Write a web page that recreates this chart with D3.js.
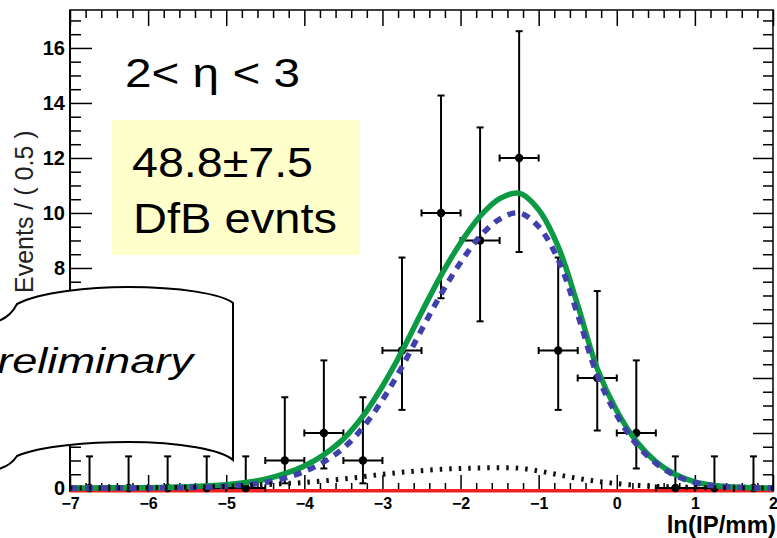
<!DOCTYPE html>
<html>
<head>
<meta charset="utf-8">
<script src="https://cdn.jsdelivr.net/npm/d3@7"></script>
<style>
  body { margin: 0; background: #fff; }
  svg { display: block; font-family: Arial, "Liberation Sans", Helvetica, sans-serif; }
</style>
</head>
<body>
<div id="chart"></div>
<script>
// ---- data ----
// binned data, bin width 0.5
const binCenters = [-6.75, -6.25, -5.75, -5.25, -4.75, -4.25, -3.75, -3.25, -2.75, -2.25, -1.75, -1.25, -0.75, -0.25, 0.25, 0.75, 1.25, 1.75];
const counts     = [0, 0, 0, 0, 0, 1, 2, 1, 5, 10, 9, 12, 5, 4, 2, 0, 0, 0];
const errLow     = [0, 0, 0, 0, 0, 0.83, 1.29, 0.83, 2.16, 3.10, 2.94, 3.42, 2.16, 1.91, 1.29, 0, 0, 0];
const errHigh    = [1.15, 1.15, 1.15, 1.15, 1.15, 2.30, 2.64, 2.30, 3.38, 4.27, 4.11, 4.61, 3.38, 3.16, 2.64, 1.15, 1.15, 1.15];

// fitted curves, sampled
const curveX  = [-7, -6.5, -6, -5.5, -5, -4.75, -4.5, -4.25, -4, -3.75, -3.5, -3.25, -3, -2.75, -2.5, -2.25, -2, -1.75, -1.5, -1.25, -1, -0.75, -0.5, -0.25, 0, 0.25, 0.5, 0.75, 1, 1.25, 1.5, 1.75, 2];
const totalY  = [0, 0.005, 0.013, 0.045, 0.12, 0.2, 0.32, 0.52, 0.8, 1.21, 1.78, 2.61, 3.7, 4.97, 6.38, 7.73, 8.91, 9.88, 10.52, 10.72, 10.12, 8.78, 6.65, 4.34, 2.81, 1.7, 0.96, 0.49, 0.22, 0.09, 0.035, 0.01, 0];
const signalY = [0, 0, 0.003, 0.015, 0.06, 0.11, 0.2, 0.36, 0.6, 0.95, 1.45, 2.2, 3.2, 4.4, 5.75, 7.05, 8.2, 9.15, 9.78, 10.0, 9.5, 8.3, 6.3, 4.1, 2.65, 1.6, 0.9, 0.45, 0.2, 0.08, 0.03, 0.01, 0];
const bkgY    = [0, 0.005, 0.01, 0.03, 0.06, 0.09, 0.12, 0.16, 0.2, 0.26, 0.33, 0.41, 0.5, 0.57, 0.63, 0.68, 0.71, 0.73, 0.74, 0.72, 0.62, 0.48, 0.35, 0.24, 0.16, 0.1, 0.06, 0.04, 0.02, 0.01, 0.005, 0, 0];
const flatX   = [-7, 2];
const flatY   = [-0.1, -0.1];

// axis ticks
const xTicks = [-7, -6, -5, -4, -3, -2, -1, 0, 1, 2];
const yTicks = [0, 2, 4, 6, 8, 10, 12, 14, 16];

// ---- layout ----
const width = 777, height = 538;
const frame = { left: 70, right: 773, top: 10, bottom: 491 };

const svg = d3.select('#chart').append('svg')
    .attr('width', width)
    .attr('height', height);

const x = d3.scaleLinear().domain([-7, 2]).range([frame.left, frame.right]);
const y = d3.scaleLinear().domain([-0.109, 17.38]).range([frame.bottom, frame.top]);

const xMinor = d3.range(-7, 2.001, 0.2).filter(v => Math.abs(v - Math.round(v)) > 1e-6);
const yMinor = d3.range(0.5, 17.4, 0.5).filter(v => v % 2 !== 0);

// axes (ticks point inward, ROOT style)
function styleAxis(g) {
    g.select('.domain').remove();
    g.selectAll('line').attr('stroke', '#000').attr('stroke-width', 1.5);
}
svg.append('g').attr('transform', `translate(${frame.left},0)`)
    .call(d3.axisLeft(y).tickValues(yTicks).tickSize(-22).tickPadding(5).tickFormat(d3.format('d')))
    .call(styleAxis)
    .selectAll('text').attr('font-size', 20).attr('font-weight', 'bold').attr('fill', '#000')
    .attr('font-family', 'Arial, Liberation Sans, sans-serif');
svg.append('g').attr('transform', `translate(${frame.left},0)`)
    .call(d3.axisLeft(y).tickValues(yMinor).tickSize(-11).tickFormat(''))
    .call(styleAxis);
svg.append('g').attr('transform', `translate(${frame.right},0)`)
    .call(d3.axisRight(y).tickValues(yTicks).tickSize(-20).tickFormat(''))
    .call(styleAxis);
svg.append('g').attr('transform', `translate(${frame.right},0)`)
    .call(d3.axisRight(y).tickValues(yMinor).tickSize(-10).tickFormat(''))
    .call(styleAxis);
svg.append('g').attr('transform', `translate(0,${frame.bottom})`)
    .call(d3.axisBottom(x).tickValues(xTicks).tickSize(-16).tickPadding(7).tickFormat(d3.format('d')))
    .call(styleAxis)
    .selectAll('text').attr('font-size', 16).attr('font-weight', 'bold').attr('fill', '#000')
    .attr('font-family', 'Arial, Liberation Sans, sans-serif');
svg.append('g').attr('transform', `translate(0,${frame.bottom})`)
    .call(d3.axisBottom(x).tickValues(xMinor).tickSize(-8).tickFormat(''))
    .call(styleAxis);
svg.append('g').attr('transform', `translate(0,${frame.top})`)
    .call(d3.axisTop(x).tickValues(xTicks).tickSize(-16).tickFormat(''))
    .call(styleAxis);
svg.append('g').attr('transform', `translate(0,${frame.top})`)
    .call(d3.axisTop(x).tickValues(xMinor).tickSize(-8).tickFormat(''))
    .call(styleAxis);

// frame
svg.append('rect')
    .attr('x', frame.left).attr('y', frame.top)
    .attr('width', frame.right - frame.left).attr('height', frame.bottom - frame.top)
    .attr('fill', 'none').attr('stroke', '#000').attr('stroke-width', 1.5);
svg.append('line')
    .attr('x1', frame.left).attr('x2', frame.left)
    .attr('y1', frame.top).attr('y2', frame.bottom)
    .attr('stroke', '#000').attr('stroke-width', 2);

// red flat component along the bottom
svg.append('path')
    .datum(flatX.map((d, i) => [d, flatY[i]]))
    .attr('d', d3.line().x(d => x(d[0])).y(d => y(d[1])))
    .attr('stroke', '#f02020').attr('stroke-width', 3.5).attr('fill', 'none');

// data points with error bars
const pts = binCenters.map((c, i) => ({ c, n: counts[i], lo: errLow[i], hi: errHigh[i] }));
const halfBin = 0.25;
const dg = svg.append('g').attr('stroke', '#000').attr('stroke-width', 2);
const pg = dg.selectAll('g.pt').data(pts).enter().append('g');
pg.append('line')
    .attr('x1', d => x(d.c)).attr('x2', d => x(d.c))
    .attr('y1', d => y(d.n - d.lo)).attr('y2', d => y(d.n + d.hi));
pg.append('line')
    .attr('x1', d => x(d.c) - 3.5).attr('x2', d => x(d.c) + 3.5)
    .attr('y1', d => y(d.n + d.hi)).attr('y2', d => y(d.n + d.hi));
pg.filter(d => d.lo > 0).append('line')
    .attr('x1', d => x(d.c) - 3.5).attr('x2', d => x(d.c) + 3.5)
    .attr('y1', d => y(d.n - d.lo)).attr('y2', d => y(d.n - d.lo));
pg.append('line')
    .attr('x1', d => x(d.c - halfBin)).attr('x2', d => x(d.c + halfBin))
    .attr('y1', d => y(d.n)).attr('y2', d => y(d.n));
pg.append('line')
    .attr('x1', d => x(d.c - halfBin)).attr('x2', d => x(d.c - halfBin))
    .attr('y1', d => y(d.n) - 3.5).attr('y2', d => y(d.n) + 3.5);
pg.append('line')
    .attr('x1', d => x(d.c + halfBin)).attr('x2', d => x(d.c + halfBin))
    .attr('y1', d => y(d.n) - 3.5).attr('y2', d => y(d.n) + 3.5);
pg.append('circle')
    .attr('cx', d => x(d.c)).attr('cy', d => y(d.n)).attr('r', 4.2)
    .attr('fill', '#000').attr('stroke', 'none');

// fit curves
const line = d3.line().x(d => x(d[0])).y(d => y(d[1])).curve(d3.curveCatmullRom.alpha(0.5));
svg.append('path')
    .datum(curveX.map((d, i) => [d, totalY[i]]))
    .attr('d', line)
    .attr('fill', 'none').attr('stroke', '#0c9a45').attr('stroke-width', 5.5);
svg.append('path')
    .datum(curveX.map((d, i) => [d, signalY[i]]))
    .attr('d', line)
    .attr('fill', 'none').attr('stroke', '#4040aa').attr('stroke-width', 5.5)
    .attr('stroke-dasharray', '8,7');
svg.append('path')
    .datum(curveX.map((d, i) => [d, bkgY[i]]))
    .attr('d', line)
    .attr('fill', 'none').attr('stroke', '#111').attr('stroke-width', 5)
    .attr('stroke-dasharray', '2.5,7');

// axis titles
svg.append('text')
    .attr('x', width - 1).attr('y', 533)
    .attr('text-anchor', 'end')
    .attr('font-size', 24).attr('font-weight', 'bold')
    .text('ln(IP/mm)');
svg.append('text')
    .attr('transform', 'translate(33,293) rotate(-90)')
    .attr('text-anchor', 'start')
    .attr('font-size', 25).attr('fill', '#222')
    .text('Events / ( 0.5 )');

// annotations
svg.append('text')
    .attr('x', 125).attr('y', 87)
    .attr('font-size', 41)
    .attr('textLength', 175).attr('lengthAdjust', 'spacingAndGlyphs')
    .text('2< η < 3');

svg.append('rect')
    .attr('x', 112).attr('y', 120).attr('width', 248).attr('height', 135)
    .attr('fill', '#ffffcc');
svg.append('text')
    .attr('x', 132).attr('y', 177)
    .attr('font-size', 42)
    .attr('textLength', 181).attr('lengthAdjust', 'spacingAndGlyphs')
    .text('48.8±7.5');
svg.append('text')
    .attr('x', 133).attr('y', 233)
    .attr('font-size', 42)
    .attr('textLength', 204).attr('lengthAdjust', 'spacingAndGlyphs')
    .text('DfB evnts');

// scroll-shaped callout
svg.append('path')
    .attr('d', 'M -10,323 C 4,321 12,314 17,304 C 40,292 90,287 128,287 C 180,287 222,294 233,303 ' +
               'L 233,460 C 222,450 180,442 128,442 C 90,442 40,446 17,456 C 12,464 4,469 -10,471 Z')
    .attr('fill', '#fff').attr('stroke', '#000').attr('stroke-width', 2);
svg.append('text')
    .attr('x', -33).attr('y', 373)
    .attr('font-size', 35).attr('font-style', 'italic')
    .attr('textLength', 226).attr('lengthAdjust', 'spacingAndGlyphs')
    .text('Preliminary');
</script>
</body>
</html>
